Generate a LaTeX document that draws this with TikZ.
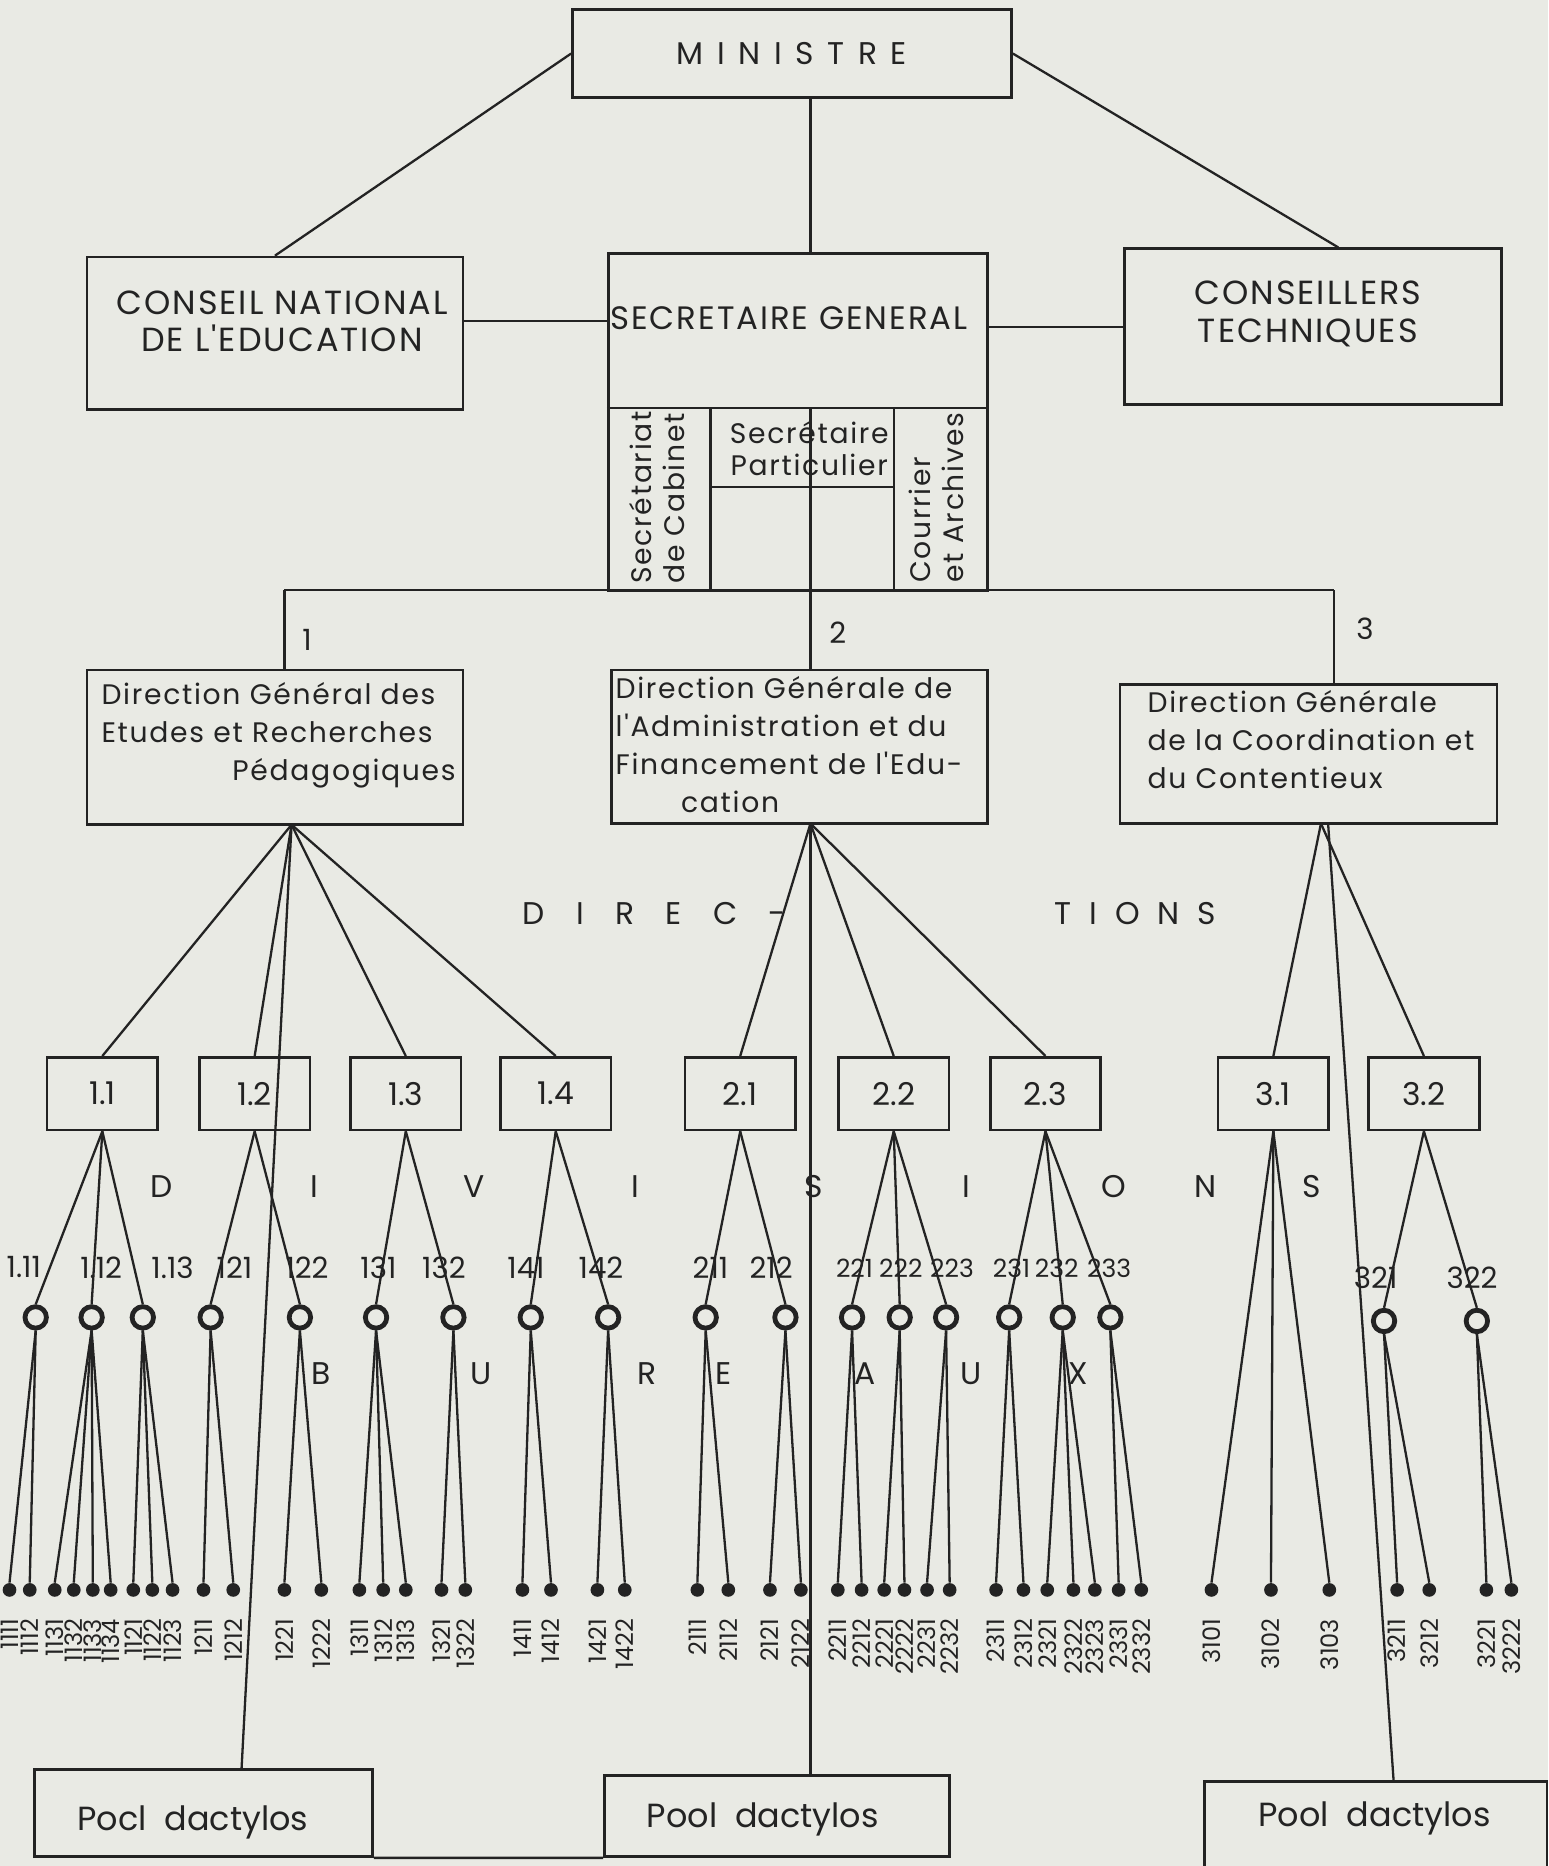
\documentclass[tikz,border=0pt]{standalone}
\usepackage{fontspec}
\setmainfont{Poppins}
\newfontfamily\typefont{Poppins}[LetterSpace=6]
\usetikzlibrary{positioning}
\definecolor{paper}{RGB}{233,234,228}
\definecolor{ink}{RGB}{35,35,35}

\begin{document}
\begin{tikzpicture}[
    x=0.02cm, y=-0.02cm,
    unit/.style={draw=ink, line width=1.3pt, rectangle, inner sep=0pt, text=ink},
    link/.style={draw=ink, line width=1.1pt},
    bigtext/.style={text=ink, font=\typefont\fontsize{16}{18}\selectfont, align=center, inner sep=0pt},
    dtext/.style={text=ink, font=\typefont\fontsize{13.5}{18.2}\selectfont, align=left, inner sep=0pt},
    divbox/.style={unit, minimum width=1.86cm, minimum height=1.22cm, font=\fontsize{15}{16}\selectfont},
    bureau/.style={circle, draw=ink, line width=2.3pt, minimum size=0.36cm, inner sep=0pt},
    leaf/.style={circle, fill=ink, minimum size=0.23cm, inner sep=0pt},
    blabel/.style={text=ink, font=\fontsize{14}{16}\selectfont, inner sep=0pt},
    hlabel/.style={blabel, font=\fontsize{12}{14}\selectfont},
    leaflabel/.style={text=ink, font=\fontsize{11.5}{12}\selectfont, rotate=90, anchor=east, inner sep=0pt},
    spaced/.style={text=ink, font=\fontsize{15}{17}\selectfont, inner sep=0pt}
]
    \fill[paper] (0,0) rectangle (1301,1568);
    \useasboundingbox (0,0) rectangle (1301,1568);

    % top level
    \node[unit, minimum width=7.38cm, minimum height=1.48cm, font=\fontsize{15}{17}\selectfont] (min) at (665.5,45) {M\, I\, N\, I\, S\, T\, R\, E};
    \node[unit, minimum width=6.32cm, minimum height=2.56cm] (cne) at (231,280) {};
    \node[bigtext] (cnet) at (237,270) {CONSEIL NATIONAL\\DE L'EDUCATION};
    \node[unit, minimum width=6.38cm, minimum height=5.66cm] (sg) at (670.5,354.5) {};
    \node[bigtext, font=\typefont\fontsize{15.5}{18}\selectfont] (sgt) at (663,267) {SECRETAIRE GENERAL};
    \node[unit, minimum width=6.34cm, minimum height=2.62cm] (ct) at (1103.5,274.5) {};
    \node[bigtext] (ctt) at (1099,264) {CONSEILLERS\\TECHNIQUES};

    \draw[link] (min.west) -- (cne.north);
    \draw[link] (min.east) -- ([xshift=0.42cm]ct.north);
    \coordinate (sgtop) at (681,213);
    \draw[link] (min.south -| sgtop) -- (sgtop);
    \draw[link] ([yshift=0.2cm]cne.east) -- ([yshift=0.2cm]cne.east -| sg.west);
    \draw[link] (sg.east |- ct.west) -- (ct.west);

    % secretariat cells
    \coordinate (sgmid) at (681,343);
    \coordinate (cell1) at (597,343);
    \coordinate (cell2) at (751,343);
    \coordinate (cell3) at (597,409);
    \draw[link] (sg.west |- sgmid) -- (sg.east |- sgmid);
    \draw[link] (cell1) -- (cell1 |- sg.south);
    \draw[link] (cell2) -- (cell2 |- sg.south);
    \draw[link] (cell3) -- (cell3 -| cell2);
    \node[dtext, rotate=90, font=\typefont\fontsize{13.5}{15.5}\selectfont] (cab) at (552,418) {Secrétariat\\de Cabinet};
    \node[dtext, align=center, font=\typefont\fontsize{13.5}{15.5}\selectfont] (part) at (680,377) {Secrétaire\\Particulier};
    \node[dtext, rotate=90, font=\typefont\fontsize{13.5}{15.5}\selectfont] (arch) at (787,418) {Courrier\\et Archives};

    % directions
    \coordinate (bar1) at (239,496);
    \coordinate (bar3) at (1121,496);
    \draw[link] (bar1) -- (bar3);
    \node[unit, minimum width=6.32cm, minimum height=2.6cm] (dg1) at (231,628) {};
    \node[unit, minimum width=6.32cm, minimum height=2.58cm] (dg2) at (672,627.5) {};
    \node[unit, minimum width=6.34cm, minimum height=2.34cm] (dg3) at (1099.5,633.5) {};
    \draw[link] (sgmid) -- (sgmid |- dg2.north);
    \draw[link] (bar1) -- (bar1 |- dg1.north);
    \draw[link] (bar3) -- (bar3 |- dg3.north);
    \node[blabel] (n1) at (258,538) {1};
    \node[blabel] (n2) at (704,532) {2};
    \node[blabel] (n3) at (1147,528) {3};
    \node[dtext, anchor=north west] (dg1t) at (85,573) {Direction Général des\\Etudes et Recherches\\\hspace*{2.2cm}Pédagogiques};
    \node[dtext, anchor=north west] (dg2t) at (517,568) {Direction Générale de\\l'Administration et du\\Financement de l'Edu-\\\hspace*{1.1cm}cation};
    \node[dtext, anchor=north west] (dg3t) at (964,580) {Direction Générale\\de la Coordination et\\du Contentieux};
    \node[spaced] (dir1) at (550,768) {D\quad I\quad R\quad E\quad C\quad -};
    \node[spaced] (dir2) at (954,768) {T\hspace{0.3cm}I\hspace{0.3cm}O\hspace{0.3cm}N\hspace{0.3cm}S};

    % divisions
    \foreach \nm/\x/\t in {d11/86/1.1, d12/214/1.2, d13/341/1.3, d14/467/1.4, d21/622/2.1, d22/751/2.2, d23/878.5/2.3, d31/1070/3.1, d32/1196.5/3.2}
        \node[divbox] (\nm) at (\x,919) {\t};
    \coordinate (fan1) at (245,693);
    \coordinate (fan2) at (681,692);
    \coordinate (fan3) at (1110,692);
    \coordinate (fan3b) at (1116,692);
    \foreach \nm in {d11,d12,d13,d14}
        \draw[link] (fan1) -- (\nm.north);
    \foreach \nm in {d21,d22,d23}
        \draw[link] (fan2) -- (\nm.north);
    \foreach \nm in {d31,d32}
        \draw[link] (fan3) -- (\nm.north);
    \foreach \x/\t [count=\i] in {136/D, 264/I, 398/V, 534/I, 684/S, 812/I, 936/O, 1013/N, 1102/S}
        \node[spaced] (dv\i) at (\x,997) {\t};

    % bureaux
    \foreach \nm/\x/\lx/\t/\dv in {b111/30/20/1.11/d11, b112/77/85/1.12/d11, b113/120/145/1.13/d11,
        b121/177/197/121/d12, b122/252/258/122/d12, b131/316/318/131/d13, b132/381/373/132/d13,
        b141/446/442/141/d14, b142/511/505/142/d14, b211/593/597/211/d21, b212/660/648/212/d21}
    {
        \node[bureau] (\nm) at (\x,1107) {};
        \draw[link] (\dv.south) -- (\nm.north);
        \node[blabel] (l\nm) at (\lx,1065) {\t};
    }
    \foreach \nm/\x/\lx/\t/\dv in {b221/716/718/221/d22, b222/756/757/222/d22, b223/795/800/223/d22,
        b231/848/850/231/d23, b232/893/888/232/d23, b233/933/932/233/d23}
    {
        \node[bureau] (\nm) at (\x,1107) {};
        \draw[link] (\dv.south) -- (\nm.north);
        \node[hlabel] (l\nm) at (\lx,1066) {\t};
    }
    \foreach \nm/\x/\lx/\t in {b321/1163/1156/321, b322/1241/1237/322}
    {
        \node[bureau] (\nm) at (\x,1110) {};
        \draw[link] (d32.south) -- (\nm.north);
        \node[blabel] (l\nm) at (\lx,1074) {\t};
    }
    \foreach \x/\t [count=\i] in {270/B, 404/U, 544/R, 608/E, 727/A, 816/U, 906/X}
        \node[spaced] (bx\i) at (\x,1154) {\t};

    % leaves
    \foreach \x/\t/\bu in {8/1111/b111, 25/1112/b111,
        46/1131/b112, 62/1132/b112, 78/1133/b112, 93/1134/b112,
        112/1121/b113, 128/1122/b113, 145/1123/b113,
        171/1211/b121, 196/1212/b121, 239/1221/b122, 270/1222/b122,
        302/1311/b131, 322/1312/b131, 341/1313/b131, 371/1321/b132, 391/1322/b132,
        439/1411/b141, 463/1412/b141, 502/1421/b142, 525/1422/b142,
        586/2111/b211, 612/2112/b211, 647/2121/b212, 673/2122/b212,
        704/2211/b221, 724/2212/b221, 743/2221/b222, 760/2222/b222, 779/2231/b223, 798/2232/b223,
        837/2311/b231, 860/2312/b231, 880/2321/b232, 902/2322/b232, 920/2323/b232,
        940/2331/b233, 959/2332/b233,
        1018/3101/d31, 1068/3102/d31, 1117/3103/d31,
        1174/3211/b321, 1201/3212/b321, 1249/3221/b322, 1270/3222/b322}
    {
        \node[leaf] (e\t) at (\x,1336) {};
        \draw[link] (\bu.south) -- (e\t.north);
        \node[leaflabel] (t\t) at (\x,1360) {\t};
    }

    % pools
    \node[unit, minimum width=5.68cm, minimum height=1.46cm] (p1) at (171,1523.5) {};
    \node[unit, minimum width=5.8cm, minimum height=1.36cm] (p2) at (653,1526) {};
    \node[unit, minimum width=5.76cm, minimum height=1.56cm] (p3) at (1156,1536) {};
    \draw[link] (p1.south east) -- (p2.south west);
    \node[spaced, font=\fontsize{16}{18}\selectfont] (p1t) at (162,1531) {Pocl\ \ dactylos};
    \node[spaced, font=\fontsize{16}{18}\selectfont] (p2t) at (641,1529) {Pool\ \ dactylos};
    \node[spaced, font=\fontsize{16}{18}\selectfont] (p3t) at (1155,1528) {Pool\ \ dactylos};
    \draw[link] (fan1) -- (p1.north -| 203,0);
    \draw[link] (fan2) -- (fan2 |- p2.north);
    \draw[link] (fan3b) -- (p3.north -| 1171,0);
\end{tikzpicture}
\end{document}
